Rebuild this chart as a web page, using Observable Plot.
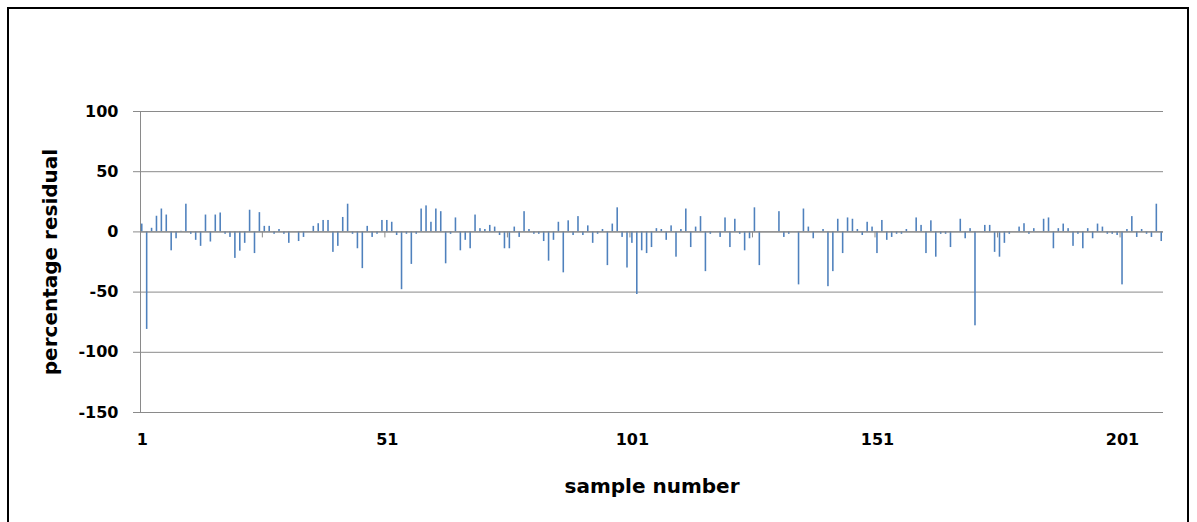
<!DOCTYPE html>
<html>
<head>
<meta charset="utf-8">
<script src="https://cdn.jsdelivr.net/npm/d3@7"></script>
<script src="https://cdn.jsdelivr.net/npm/@observablehq/plot@0.6"></script>
<style>
  html, body { margin: 0; padding: 0; background: #fff; }
  #wrap { position: relative; width: 1197px; height: 522px; overflow: hidden; }
  #border { position: absolute; left: 7px; top: 7px; width: 1182px; height: 530px; border: 2px solid #000; box-sizing: border-box; pointer-events: none; }
  svg { font-family: "DejaVu Sans", sans-serif; }
</style>
</head>
<body>
<div id="wrap"><div id="border"></div></div>
<script>
const residuals = [
  6.5, -81, 3, 13, 19, 14, -15.7, -5.7, 0.5, 23,
  -2, -7, -12, 14, -8.4, 14, 15.7, -2, -4.6, -22,
  -16, -9.5, 18, -18, 16, 4.6, 4.6, -2, 2, -2,
  -9.5, 0, -8, -4.6, 0, 4.6, 6.8, 9.5, 9.5, -17,
  -12, 12, 23, -2, -14, -30.5, 4.6, -4.6, -2, 9.5,
  9.5, 8, -3, -48, -2, -27, -2, 19, 21.6, 8,
  19, 16.8, -26.5, -2, 11.6, -15.7, -7, -14, 14, 2.7,
  2, 5.4, 4, -3, -14, -14, 4, -4.6, 16.8, 2,
  -2, -2, -8, -24.3, -7, 8, -34, 9.2, -3, 12.7,
  -3, 5, -9.5, -2, 2, -28, 6.5, 20, -4.6, -30,
  -9.5, -52, -15.7, -18, -13, 2.7, 2, -7, 5, -21,
  2, 19, -13, 4, 12.7, -33, -2, 0, -4.6, 11.6,
  -13, 10.5, -2, -15.7, -5.7, 20, -28, 0, 0, 0,
  16.8, -4.6, -2, 0, -44, 19, 4, -5.7, 0, 2,
  -45.5, -33, 10.5, -18, 11.6, 10.5, 2, -3, 8, 4,
  -18, 9.5, -7, -4.6, -2, -2, 2, 0, 11.6, 5.4,
  -18, 9.2, -21, -2, -2, -13, 0, 10.5, -5.7, 2.7,
  -78, 0, 5.4, 5.4, -17, -21, -9.5, -2, 0, 4,
  6.8, -2, 2.7, 0, 10.5, 11.6, -14, 2.7, 6.5, 2.7,
  -12, -2, -14, 2.7, -5.7, 6.5, 4, -2, -2, -3,
  -44, 2, 12.7, -4.6, 2, -2, -4.6, 23, -8
];
const samples = residuals.map((_, i) => i + 1);
const xTickLabels = [1, 51, 101, 151, 201];
const yTicks = [100, 50, 0, -50, -100, -150];
const categoryTicks = [26, 51, 76, 101, 126, 151, 176, 201];

const data = samples.map((s, i) => ({sample: s, value: residuals[i]}));

const W = 1197, H = 522;
const mL = 140, mR = 34, mT = 111, mB = 110;
const step = (W - mL - mR) / samples.length;

const chart = Plot.plot({
  width: W,
  height: H,
  marginLeft: mL,
  marginRight: mR,
  marginTop: mT,
  marginBottom: mB,
  style: {fontFamily: "'DejaVu Sans', sans-serif", fontWeight: "bold", fontSize: "16px", color: "#000", background: "transparent"},
  x: {type: "band", domain: samples, paddingInner: 0.68, paddingOuter: 0.2, align: 0.5},
  y: {domain: [-150, 100]},
  marks: [
    Plot.ruleY(yTicks, {stroke: "#8a8a8a", strokeWidth: 1}),
    Plot.frame({anchor: "left", stroke: "#8a8a8a"}),
    Plot.barY(data, {x: "sample", y: "value", fill: "#4F81BD"}),
    Plot.ruleY([0], {stroke: "#8a8a8a", strokeWidth: 1.3}),
    Plot.ruleX(categoryTicks, {x: d => d, y1: 0, y2: -5, dx: -step / 2, stroke: "#8a8a8a"}),
    Plot.axisY({ticks: yTicks, tickFormat: d => String(d), tickSize: 7, tickPadding: 15, stroke: "#8a8a8a", fontSize: 16, fontWeight: "bold",
      label: "percentage residual", labelAnchor: "center", labelArrow: "none", labelOffset: 98}),
    Plot.axisX({ticks: xTickLabels, tickFormat: d => String(d), tickSize: 0, tickPadding: 21, fontSize: 16, fontWeight: "bold",
      label: "sample number", labelAnchor: "center", labelArrow: "none", labelOffset: 80})
  ]
});

chart.querySelectorAll("[aria-label='y-axis label'] text, [aria-label='x-axis label'] text").forEach(t => {
  t.setAttribute("font-size", "20");
  t.style.fontSize = "20px";
});
document.getElementById("wrap").appendChild(chart);
</script>
</body>
</html>
